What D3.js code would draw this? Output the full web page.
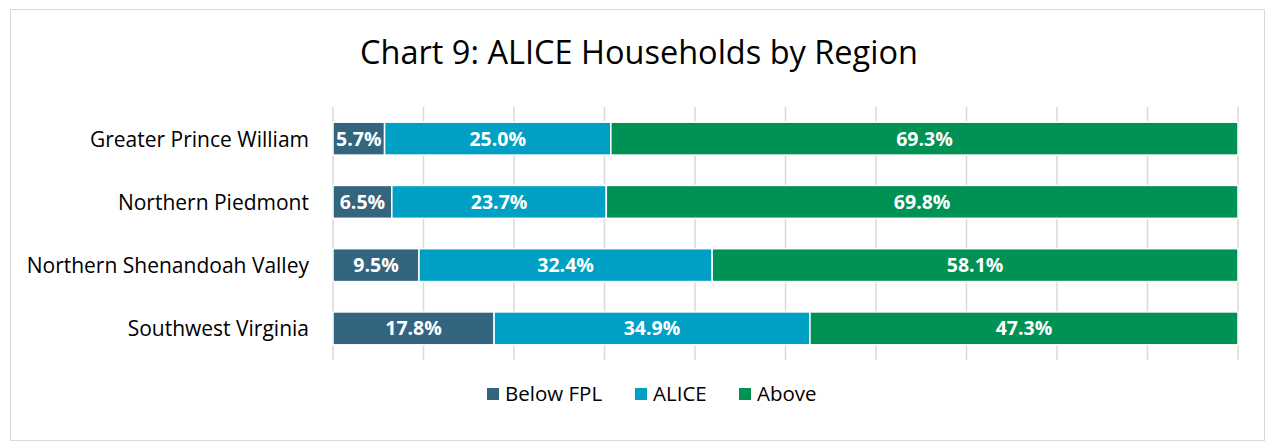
<!DOCTYPE html>
<html>
<head>
<meta charset="utf-8">
<script src="https://cdn.jsdelivr.net/npm/d3@7"></script>
<style>
  body { margin: 0; background: #fff; }
  text { font-family: "Open Sans", "Noto Sans", sans-serif; }
</style>
</head>
<body>
<svg id="chart" width="1267" height="444"></svg>
<script>
const regions = ["Greater Prince William", "Northern Piedmont", "Northern Shenandoah Valley", "Southwest Virginia"]
const seriesNames = ["Below FPL", "ALICE", "Above"]
const belowFPL = [5.7, 6.5, 9.5, 17.8]
const alice = [25.0, 23.7, 32.4, 34.9]
const above = [69.3, 69.8, 58.1, 47.3]
const colors = ["#33657f", "#009fc4", "#009155"]

const rows = regions.map((r, i) => ({region: r, "Below FPL": belowFPL[i], "ALICE": alice[i], "Above": above[i]}))

const svg = d3.select("#chart")

// outer frame
svg.append("rect")
  .attr("x", 10.5).attr("y", 9.5)
  .attr("width", 1254).attr("height", 431)
  .attr("fill", "#fff").attr("stroke", "#d9d9d9")

svg.append("text")
  .attr("x", 639).attr("y", 64)
  .attr("text-anchor", "middle")
  .attr("font-size", 32.5)
  .attr("fill", "#000")
  .text("Chart 9: ALICE Households by Region")

const x = d3.scaleLinear().domain([0, 100]).range([333, 1238])
const y = d3.scaleBand().domain(regions).range([107, 360]).paddingInner(0.48).paddingOuter(0.24)

// gridlines
svg.append("g")
  .selectAll("line")
  .data(d3.range(0, 101, 10))
  .join("line")
  .attr("x1", d => x(d)).attr("x2", d => x(d))
  .attr("y1", 107).attr("y2", 360)
  .attr("stroke", "#d9d9d9").attr("stroke-width", 1.5)

const stack = d3.stack().keys(seriesNames)(rows)

const groups = svg.append("g")
  .selectAll("g")
  .data(stack)
  .join("g")
  .attr("fill", (d, i) => colors[i])

groups.selectAll("rect")
  .data(d => d)
  .join("rect")
  .attr("x", d => x(d[0]))
  .attr("y", d => y(d.data.region))
  .attr("width", d => x(d[1]) - x(d[0]))
  .attr("height", y.bandwidth())
  .attr("stroke", "#fff").attr("stroke-width", 1.5)

groups.selectAll("text")
  .data(d => d.map(v => ({v, key: d.key})))
  .join("text")
  .attr("x", d => (x(d.v[0]) + x(d.v[1])) / 2)
  .attr("y", d => y(d.v.data.region) + y.bandwidth() / 2 + 7)
  .attr("text-anchor", "middle")
  .attr("font-size", 19.5)
  .attr("font-weight", "bold")
  .attr("fill", "#fff")
  .text(d => d3.format(".1f")(d.v[1] - d.v[0]) + "%")

// category labels
svg.append("g")
  .selectAll("text")
  .data(regions)
  .join("text")
  .attr("x", 309)
  .attr("y", d => y(d) + y.bandwidth() / 2 + 8)
  .attr("text-anchor", "end")
  .attr("font-size", 21)
  .attr("fill", "#000")
  .text(d => d)

// legend
const legendX = [487, 635, 739]
const legend = svg.append("g")
  .selectAll("g")
  .data(seriesNames)
  .join("g")
  .attr("transform", (d, i) => `translate(${legendX[i]},394)`)

legend.append("rect")
  .attr("x", 0).attr("y", -6)
  .attr("width", 12).attr("height", 12)
  .attr("fill", (d, i) => colors[i])

legend.append("text")
  .attr("x", 18).attr("y", 7)
  .attr("font-size", 20.5)
  .attr("fill", "#000")
  .text(d => d)
</script>
</body>
</html>
